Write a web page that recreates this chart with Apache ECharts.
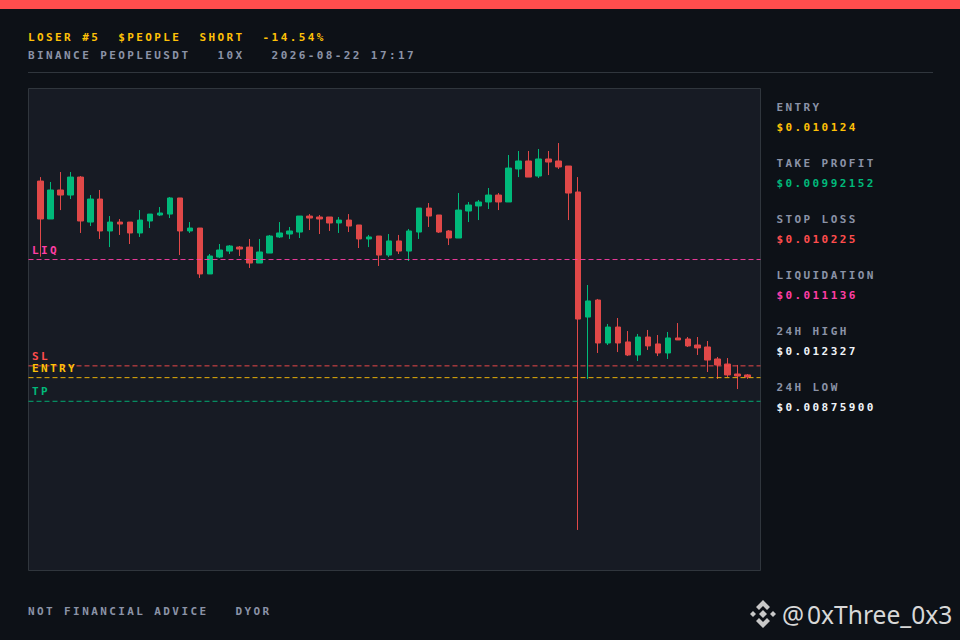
<!DOCTYPE html>
<html><head><meta charset="utf-8">
<style>
html,body{margin:0;padding:0;background:#0d1117;}
#c{width:960px;height:640px;}
#c svg text{letter-spacing:2.4px;white-space:pre;}
#c svg text[style*="Noto Sans"]{letter-spacing:0;}
</style>
<script src="https://cdn.jsdelivr.net/npm/echarts@6/dist/echarts.min.js"></script>
</head><body><div id="c"></div>
<script>
// prices in millionths of a dollar
const opens=[11804,11481,11728,11685,11838,11455,11651,11379,11455,11455,11362,11464,11515,11523,11660,11379,11404,11013,11157,11208,11242,11242,11106,11191,11328,11353,11370,11506,11498,11498,11447,11472,11430,11311,11336,11174,11294,11208,11370,11574,11515,11379,11319,11549,11592,11626,11685,11626,11907,11975,11847,11992,11975,11932,11711,10646,10791,10425,10561,10434,10323,10476,10417,10340,10468,10459,10408,10391,10289,10246,10161,10153];
const closes=[11481,11728,11685,11838,11464,11651,11379,11455,11438,11362,11472,11523,11532,11660,11379,11404,11013,11166,11217,11251,11225,11106,11200,11336,11362,11379,11506,11489,11481,11447,11472,11421,11311,11328,11174,11294,11208,11379,11574,11506,11370,11319,11557,11600,11626,11685,11626,11915,11975,11838,11992,11966,11924,11702,10629,10783,10425,10561,10425,10323,10476,10400,10340,10468,10451,10400,10383,10280,10238,10153,10144,10136];
const lows=[11160,11481,11557,11651,11362,11421,11311,11242,11345,11268,11328,11404,11506,11489,11174,11362,10979,11013,11149,11183,11166,11064,11106,11191,11319,11311,11319,11387,11353,11379,11362,11370,11234,11242,11081,11157,11183,11123,11311,11413,11362,11259,11319,11455,11472,11566,11557,11626,11838,11838,11830,11855,11907,11472,8833,10119,10340,10408,10348,10314,10272,10366,10314,10289,10451,10391,10323,10178,10119,10136,10033,10119];
const highs=[11838,11796,11881,11881,11847,11685,11728,11506,11481,11455,11557,11523,11583,11668,11660,11455,11404,11183,11268,11259,11251,11311,11311,11345,11455,11413,11506,11523,11515,11498,11498,11523,11430,11345,11336,11353,11345,11396,11574,11617,11515,11387,11702,11626,11643,11745,11702,12026,12060,12060,12077,12060,12128,11932,11838,10919,10800,10587,10638,10527,10502,10536,10493,10519,10595,10476,10476,10442,10306,10297,10238,10161];
const levelNames=['LIQ','SL','ENTRY','TP'];
const levelValues=[11136,10225,10124,9921.52];
const levelColors=['#ff3ea5','#ff4d4d','#ffc107','#00b97a'];
const statNames=['ENTRY','TAKE PROFIT','STOP LOSS','LIQUIDATION','24H HIGH','24H LOW'];
const statValues=['$0.010124','$0.00992152','$0.010225','$0.011136','$0.012327','$0.00875900'];
const statColors=['#ffc107','#00b97a','#ff4d4d','#ff3ea5','#f0f4f8','#f0f4f8'];
const title='LOSER #5  $PEOPLE  SHORT  -14.54%';
const subtitle='BINANCE PEOPLEUSDT   10X   2026-08-22 17:17';
const footer='NOT FINANCIAL ADVICE   DYOR';
const handleAt='@';
const handle='0xThree_0x3';
const yMin=8492,yMax=12588;
const levelMin=8472,levelMax=12601;

const font='bold 11px "DejaVu Sans Mono"';
const txt=(x,y,s,fill)=>({type:'text',x,y,silent:true,style:{text:s,fill,font,textVerticalAlign:'middle'}});
const mark='#c8c8c8';
const graphics=[
 {type:'rect',shape:{x:0,y:0,width:960,height:9},style:{fill:'#ff4d4d'},silent:true},
 {type:'rect',shape:{x:28,y:72,width:905,height:1},style:{fill:'#30363d'},silent:true},
 txt(28,37.5,title,'#ffc107'),
 txt(28,55.5,subtitle,'#8b93a7'),
 txt(28,611.5,footer,'#8b93a7'),
 {type:'text',x:807,y:614,silent:true,style:{text:handle,fill:'#d8d8d8',font:'24.6px "Noto Sans"',textVerticalAlign:'middle'}},
 {type:'text',x:782,y:614,silent:true,style:{text:handleAt,fill:'#d8d8d8',font:'24.6px "Noto Sans"',textVerticalAlign:'middle'}},
 {type:'polygon',silent:true,shape:{points:[[763,600],[770,607],[767,610],[763,606],[759,610],[756,607]]},style:{fill:mark}},
 {type:'polygon',silent:true,shape:{points:[[763,628],[770,621],[767,618],[763,622],[759,618],[756,621]]},style:{fill:mark}},
 {type:'polygon',silent:true,shape:{points:[[763,610],[767,614],[763,618],[759,614]]},style:{fill:mark}},
 {type:'polygon',silent:true,shape:{points:[[753,611],[756,614],[753,617],[750,614]]},style:{fill:mark}},
 {type:'polygon',silent:true,shape:{points:[[773,611],[776,614],[773,617],[770,614]]},style:{fill:mark}}
];
statNames.forEach((n,i)=>{
  graphics.push(txt(776.5,107.5+56*i,n,'#8b93a7'));
  graphics.push(txt(776.5,127.5+56*i,statValues[i],statColors[i]));
});
const cats=opens.map((_,i)=>i);
const candles=opens.map((o,i)=>[o,closes[i],lows[i],highs[i]]);
const series=[{
  type:'candlestick',xAxisIndex:1,yAxisIndex:1,barWidth:6,data:candles,z:3,
  itemStyle:{color:'#00b97a',color0:'#e04848',borderColor:'#00b97a',borderColor0:'#e04848',borderWidth:1}
}];
levelNames.forEach((n,i)=>{
  series.push({type:'line',xAxisIndex:0,yAxisIndex:0,symbol:'circle',symbolSize:0,showAllSymbol:true,z:4,silent:true,
    lineStyle:{color:levelColors[i],width:1,type:[5,3],opacity:0.9},
    itemStyle:{color:levelColors[i]},
    data:[{value:[0,levelValues[i]],label:{show:true,formatter:n,position:'top',align:'left',offset:[3.5,0],color:levelColors[i],fontFamily:'DejaVu Sans Mono',fontSize:11,fontWeight:'bold',lineHeight:9}},[1,levelValues[i]]]
  });
});
const chart=echarts.init(document.getElementById('c'),null,{renderer:'svg',width:960,height:640});
chart.setOption({
  animation:false,backgroundColor:'#0d1117',
  grid:[
   {left:28.5,top:88.5,width:732,height:482,show:true,backgroundColor:'#171b24',borderColor:'#30363d',borderWidth:1},
   {left:35.5,top:89,width:717,height:481}
  ],
  xAxis:[
   {type:'value',gridIndex:0,min:0,max:1,show:false},
   {type:'category',gridIndex:1,data:cats,show:false}
  ],
  yAxis:[
   {type:'value',gridIndex:0,min:levelMin,max:levelMax,show:false},
   {type:'value',gridIndex:1,min:yMin,max:yMax,show:false}
  ],
  graphic:graphics,series
});
</script></body></html>
